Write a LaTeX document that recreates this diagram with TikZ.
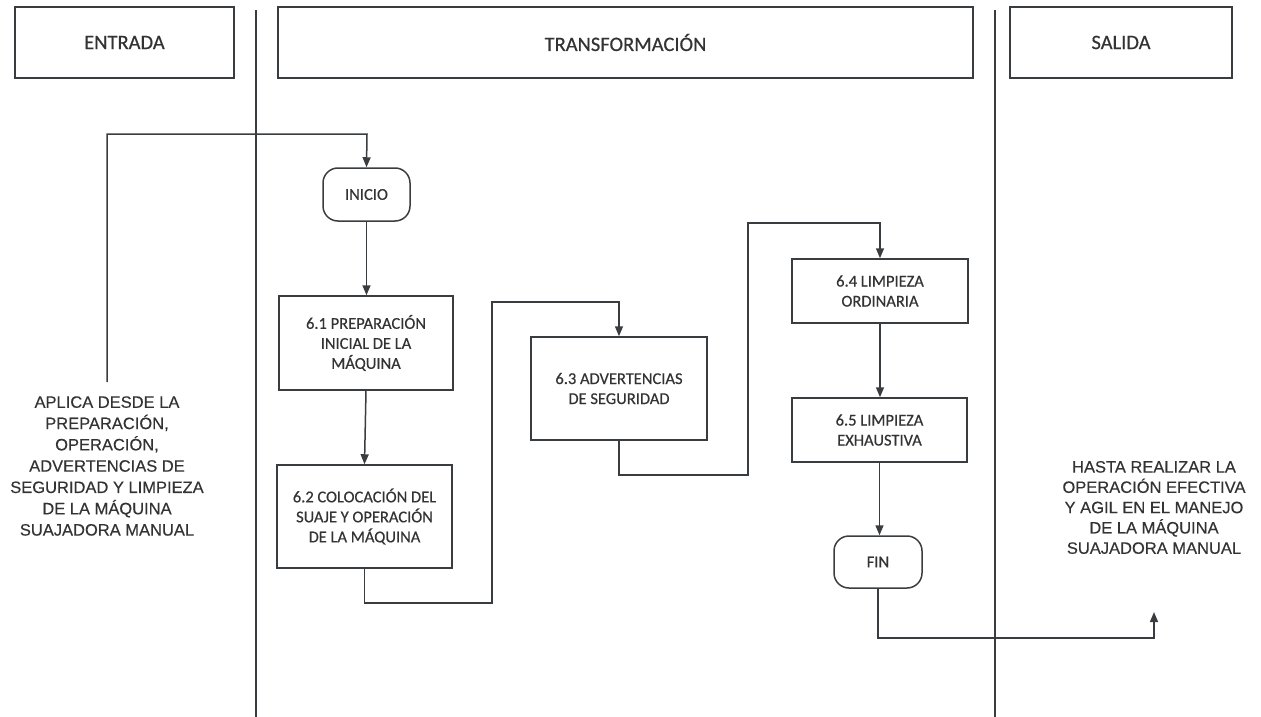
\documentclass[tikz,border=0pt]{standalone}
\usepackage{fontspec}
\setmainfont{Carlito}[FakeBold=0.5]
\newfontfamily\arialfont{Liberation Sans}[FakeBold=0.3]
\usetikzlibrary{arrows.meta}
\definecolor{linegray}{HTML}{3A3D40}
\definecolor{textgray}{HTML}{333333}

\begin{document}
\begin{tikzpicture}[x=1pt,y=-1pt,
    header/.style={draw=linegray, line width=1.5pt, minimum height=71pt, inner sep=0pt, text=textgray, font=\fontsize{20.5}{24}\selectfont},
    procbox/.style={draw=linegray, line width=1.5pt, inner sep=0pt, align=center, text=textgray, font=\fontsize{16.5}{20}\selectfont},
    termbox/.style={procbox, rounded corners=15pt, minimum width=87pt, minimum height=53pt},
    sidetext/.style={align=center, inner sep=0pt, text=textgray, font=\arialfont\fontsize{16.5}{21.3}\selectfont},
    flow/.style={draw=linegray, line width=1.5pt, -{Triangle[length=10pt,width=8pt]}},
    lane/.style={draw=linegray, line width=1.4pt}]

\useasboundingbox (0,0) rectangle (1261,717);

% encabezados y carriles
\node[header, minimum width=219pt] (entrada) at (124.5,42.5) {ENTRADA};
\node[header, minimum width=695pt] (transf) at (625.5,42.5) {TRANSFORMACIÓN};
\node[header, minimum width=222pt] (salida) at (1121,42.5) {SALIDA};
\draw[lane] (256,10) -- (256,717);
\draw[lane] (995,10) -- (995,717);

% textos laterales
\node[sidetext] (entradatxt) at (107,466) {APLICA DESDE LA\\PREPARACIÓN,\\OPERACIÓN,\\ADVERTENCIAS DE\\SEGURIDAD Y LIMPIEZA\\DE LA MÁQUINA\\SUAJADORA MANUAL};
\node[sidetext, font=\arialfont\fontsize{16.5}{20.3}\selectfont] (salidatxt) at (1154,507.5) {HASTA REALIZAR LA\\OPERACIÓN EFECTIVA\\Y AGIL EN EL MANEJO\\DE LA MÁQUINA\\SUAJADORA MANUAL};

% procedimiento
\node[termbox] (inicio) at (366.5,194.5) {INICIO};
\node[procbox, minimum width=174pt, minimum height=94pt] (p61) at (366,343) {6.1 PREPARACIÓN\\INICIAL DE LA\\MÁQUINA};
\node[procbox, minimum width=175pt, minimum height=103pt] (p62) at (364.5,516.5) {6.2 COLOCACIÓN DEL\\SUAJE Y OPERACIÓN\\DE LA MÁQUINA};
\node[procbox, minimum width=176pt, minimum height=103pt] (p63) at (619,388.5) {6.3 ADVERTENCIAS\\DE SEGURIDAD};
\node[procbox, minimum width=176pt, minimum height=64pt] (p64) at (880,291) {6.4 LIMPIEZA\\ORDINARIA};
\node[procbox, minimum width=175pt, minimum height=64pt] (p65) at (879.5,430) {6.5 LIMPIEZA\\EXHAUSTIVA};
\node[termbox, minimum width=88pt, minimum height=52pt] (fin) at (878,562) {FIN};

\coordinate (entradatop) at (107,382);
\coordinate (bend0) at (367,134);
\coordinate (bend1) at (492,603);
\coordinate (bend2) at (492,302);
\coordinate (bend3) at (748,475);
\coordinate (bend4) at (748,223);
\coordinate (bend5) at (1154,638);
\coordinate (salidaend) at (1154,612);

% conectores
\draw[flow] (entradatop) |- (bend0) -- (inicio.north);
\draw[flow] (inicio.south) -- (inicio.south |- p61.north);
\draw[flow] (p61.south) -- (p62.north);
\draw[flow] (p62.south) |- (bend1) -- (bend2) -| (p63.north);
\draw[flow] (p63.south) |- (bend3) -- (bend4) -| (p64.north);
\draw[flow] (p64.south) -- (p64.south |- p65.north);
\draw[flow] (p65.south) -- (p65.south |- fin.north);
\draw[flow] (fin.south) |- (bend5) -- (salidaend);

\end{tikzpicture}
\end{document}
